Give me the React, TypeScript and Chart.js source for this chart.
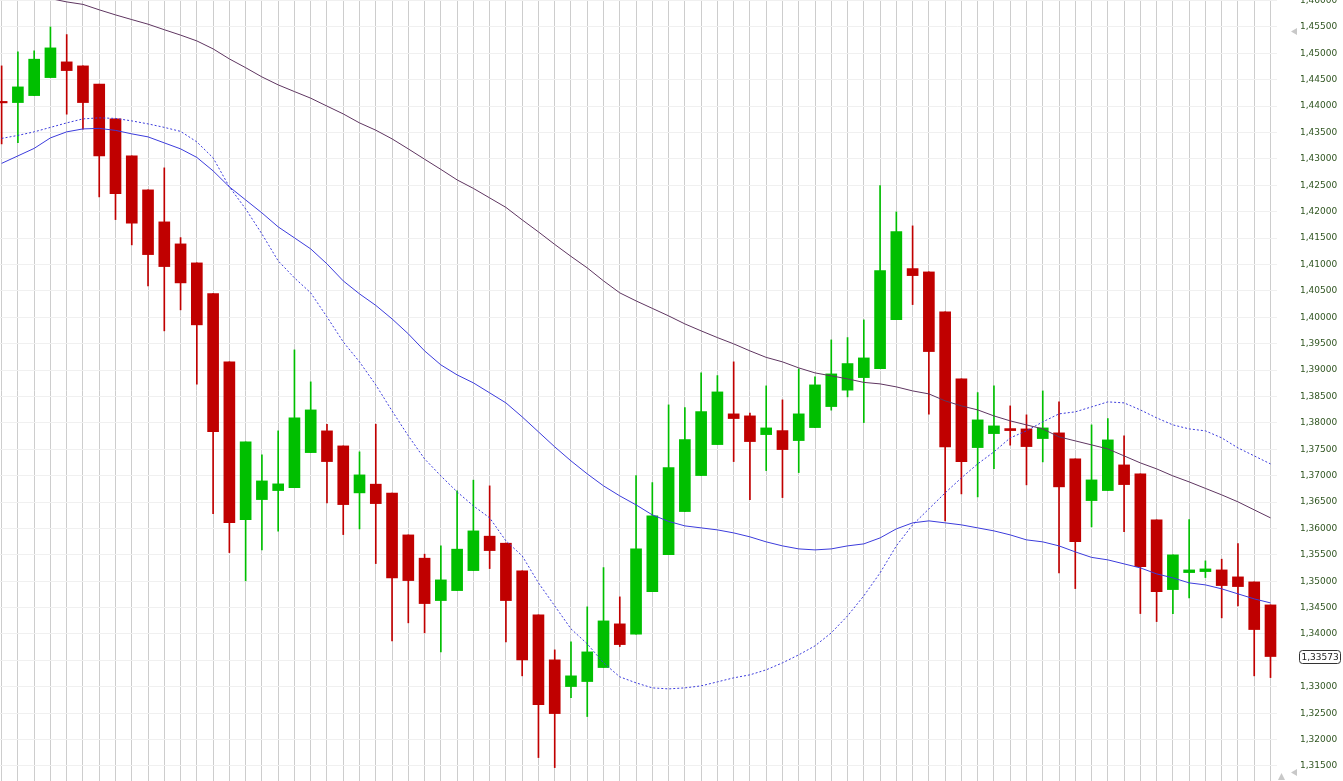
import React, { useEffect, useRef } from "react";
import { Chart, registerables } from "chart.js";

Chart.register(...registerables);

// ---- data ----
const opens = [
  1.44089, 1.44067, 1.44199, 1.4454, 1.44838, 1.44762, 1.44415, 1.43758, 1.43057, 1.42413,
  1.41807, 1.4139, 1.4103, 1.40448, 1.39155, 1.36167, 1.36546, 1.36717, 1.36773, 1.37436,
  1.37848, 1.37563, 1.36673, 1.36838, 1.36667, 1.35877, 1.35436, 1.34633, 1.34822, 1.35201,
  1.35853, 1.3572, 1.35196, 1.34362, 1.3351, 1.33004, 1.33099, 1.33364, 1.34192, 1.33996,
  1.34803, 1.35504, 1.36319, 1.37001, 1.37588, 1.3817, 1.38132, 1.37777, 1.37853, 1.37664,
  1.3791, 1.38308, 1.38619, 1.38857, 1.39028, 1.39956, 1.40922, 1.40859, 1.40102, 1.38833,
  1.37531, 1.37796, 1.37891, 1.37885, 1.37702, 1.3781, 1.37317, 1.36527, 1.36717, 1.37203,
  1.37033, 1.36162, 1.34841, 1.35163, 1.35182, 1.35214, 1.35082, 1.34987, 1.34551,
];
const highs = [
  1.44762, 1.45027, 1.45046, 1.455, 1.45355, 1.44762, 1.44415, 1.43758, 1.43057, 1.42413,
  1.4283, 1.41509, 1.4103, 1.40448, 1.39155, 1.37639, 1.37393, 1.37848, 1.39382, 1.38776,
  1.37974, 1.37563, 1.3745, 1.37974, 1.36667, 1.35877, 1.35512, 1.35669, 1.36711, 1.36914,
  1.36806, 1.3572, 1.35196, 1.34362, 1.33699, 1.33851, 1.34514, 1.35258, 1.34703, 1.37001,
  1.36868, 1.3834, 1.38289, 1.38946, 1.38895, 1.39155, 1.38183, 1.387, 1.38435, 1.39022,
  1.38871, 1.39571, 1.39615, 1.3995, 1.42494, 1.41996, 1.41731, 1.40859, 1.40102, 1.38833,
  1.38573, 1.387, 1.38321, 1.38151, 1.38605, 1.38397, 1.37317, 1.37961, 1.38081, 1.37753,
  1.37033, 1.36162, 1.35499, 1.36167, 1.35385, 1.35417, 1.35713, 1.34987, 1.34551,
];
const lows = [
  1.43284, 1.43309, 1.44199, 1.4454, 1.43847, 1.43563, 1.4228, 1.4185, 1.41371, 1.40594,
  1.39742, 1.4014, 1.38732, 1.36281, 1.35542, 1.35006, 1.35593, 1.35948, 1.36773, 1.37436,
  1.36484, 1.35883, 1.35991, 1.35334, 1.3387, 1.34211, 1.34021, 1.33661, 1.34822, 1.35201,
  1.35239, 1.33851, 1.33207, 1.31659, 1.31469, 1.32795, 1.32436, 1.33364, 1.33762, 1.33996,
  1.34803, 1.35504, 1.36319, 1.37001, 1.37588, 1.37266, 1.36546, 1.37095, 1.36584, 1.37058,
  1.3791, 1.3824, 1.38492, 1.38005, 1.39028, 1.39956, 1.4024, 1.38164, 1.36143, 1.36654,
  1.36597, 1.37133, 1.37577, 1.36825, 1.3726, 1.35158, 1.3486, 1.36029, 1.36717, 1.3594,
  1.34387, 1.34235, 1.34387, 1.34684, 1.35069, 1.34305, 1.34532, 1.33207, 1.33174,
];
const closes = [
  1.44061, 1.44364, 1.44889, 1.45103, 1.44673, 1.44067, 1.43057, 1.42343, 1.41782, 1.41187,
  1.4096, 1.40651, 1.39856, 1.37834, 1.3611, 1.37639, 1.369, 1.36844, 1.38094, 1.38245,
  1.37266, 1.36451, 1.37014, 1.3647, 1.35063, 1.35012, 1.34576, 1.35025, 1.35607, 1.35953,
  1.3558, 1.34633, 1.3351, 1.32663, 1.32492, 1.33207, 1.33661, 1.34248, 1.33799, 1.35612,
  1.36237, 1.37152, 1.37683, 1.38213, 1.38586, 1.38081, 1.37645, 1.37904, 1.37493, 1.3817,
  1.38719, 1.38927, 1.39123, 1.3923, 1.40884, 1.41623, 1.40789, 1.3935, 1.37544, 1.37266,
  1.38056, 1.37942, 1.37853, 1.3755, 1.37904, 1.36787, 1.35751, 1.36919, 1.37677, 1.3683,
  1.35277, 1.34803, 1.35499, 1.35214, 1.35233, 1.34917, 1.34898, 1.34084, 1.33573,
];
// slow moving average (purple)
const maSlow = [
  1.4627, 1.46194, 1.46116, 1.46038, 1.45974, 1.45927, 1.45824, 1.45728, 1.45639, 1.45552,
  1.45447, 1.45345, 1.45235, 1.45084, 1.44894, 1.44728, 1.44553, 1.44402, 1.44275, 1.4415,
  1.44, 1.43852, 1.43682, 1.43544, 1.43379, 1.43189, 1.42994, 1.42801, 1.42602, 1.42441,
  1.42261, 1.42081, 1.41845, 1.41617, 1.4138, 1.41153, 1.40935, 1.40689, 1.40462, 1.4031,
  1.40168, 1.40026, 1.39874, 1.39742, 1.39615, 1.39496, 1.39363, 1.3924, 1.39155, 1.39041,
  1.38946, 1.3889, 1.38833, 1.38766, 1.38738, 1.38681, 1.38605, 1.38548, 1.38416, 1.38321,
  1.38245, 1.38131, 1.38037, 1.37961, 1.37885, 1.37734, 1.37658, 1.37582, 1.37506, 1.37374,
  1.37241, 1.37128, 1.36995, 1.36881, 1.36758, 1.36635, 1.36503, 1.36351, 1.362,
];
// medium moving average (blue solid)
const maMid = [
  1.42915, 1.43057, 1.43199, 1.43398, 1.43512, 1.43568, 1.43578, 1.4354, 1.43474, 1.43417,
  1.43303, 1.4319, 1.43028, 1.42773, 1.4247, 1.42223, 1.41977, 1.41712, 1.41504, 1.41295,
  1.41011, 1.40689, 1.40443, 1.40225, 1.39969, 1.39685, 1.39363, 1.39098, 1.38908, 1.38757,
  1.38568, 1.38378, 1.38113, 1.37829, 1.37545, 1.37279, 1.37033, 1.36806, 1.36616, 1.36446,
  1.36256, 1.36133, 1.36048, 1.3601, 1.35972, 1.35915, 1.3584, 1.35745, 1.35669, 1.35612,
  1.35593, 1.35612, 1.35669, 1.35707, 1.3582, 1.35991, 1.36105, 1.36143, 1.36105, 1.36067,
  1.3601, 1.35953, 1.35877, 1.35783, 1.35745, 1.35669, 1.35555, 1.35451, 1.35404, 1.35328,
  1.35252, 1.35139, 1.35063, 1.34968, 1.3493, 1.34855, 1.3476, 1.34665, 1.34589,
];
// fast moving average (blue dotted)
const maFast = [
  1.43388, 1.43445, 1.43512, 1.43597, 1.43682, 1.43758, 1.43777, 1.43767, 1.4372, 1.43663,
  1.43597, 1.43521, 1.43322, 1.43019, 1.4247, 1.42053, 1.41579, 1.41068, 1.40746, 1.40462,
  1.40007, 1.39533, 1.39155, 1.38719, 1.38226, 1.37753, 1.37317, 1.36995, 1.36692, 1.36427,
  1.362, 1.35764, 1.3548, 1.34968, 1.34532, 1.34097, 1.33813, 1.33453, 1.33188, 1.33074,
  1.32979, 1.3296, 1.32979, 1.33017, 1.33093, 1.33169, 1.33226, 1.33321, 1.33453, 1.33605,
  1.33775, 1.34021, 1.34343, 1.34722, 1.35158, 1.35669, 1.36067, 1.3637, 1.36673, 1.36957,
  1.37222, 1.3745, 1.37715, 1.37848, 1.38018, 1.3817, 1.38208, 1.38302, 1.38397, 1.38378,
  1.38245, 1.38094, 1.37961, 1.37885, 1.37848, 1.37715, 1.37525, 1.37374, 1.37222,
];
const yTickValues = [
  1.315, 1.32, 1.325, 1.33, 1.335, 1.34, 1.345, 1.35, 1.355, 1.36, 1.365, 1.37, 1.375, 1.38,
  1.385, 1.39, 1.395, 1.4, 1.405, 1.41, 1.415, 1.42, 1.425, 1.43, 1.435, 1.44, 1.445, 1.45,
  1.455, 1.46,
];

const GREEN = "#00bf00";
const RED = "#c00000";
const PURPLE = "#5e3560";
const BLUE = "#3c3cdc";
const LABEL_FONT = "DejaVu Sans";

const fmt = (v: number) => v.toFixed(5).replace(".", ",");

const decorPlugin = {
  id: "decor",
  afterDraw(chart: any) {
    const ctx = chart.ctx as CanvasRenderingContext2D;
    const y = chart.scales.y.getPixelForValue(closes[closes.length - 1]);
    ctx.save();
    // current price box
    const bx = 1299.5, bw = 41, bh = 13;
    const by = Math.round(y - bh / 2) + 0.5;
    ctx.beginPath();
    const r = 3;
    ctx.moveTo(bx + r, by);
    ctx.lineTo(bx + bw - r, by);
    ctx.quadraticCurveTo(bx + bw, by, bx + bw, by + r);
    ctx.lineTo(bx + bw, by + bh - r);
    ctx.quadraticCurveTo(bx + bw, by + bh, bx + bw - r, by + bh);
    ctx.lineTo(bx + r, by + bh);
    ctx.quadraticCurveTo(bx, by + bh, bx, by + bh - r);
    ctx.lineTo(bx, by + r);
    ctx.quadraticCurveTo(bx, by, bx + r, by);
    ctx.closePath();
    ctx.fillStyle = "#ffffff";
    ctx.fill();
    ctx.strokeStyle = "#333333";
    ctx.lineWidth = 1;
    ctx.stroke();
    ctx.fillStyle = "#1e1e1e";
    ctx.font = `9px "${LABEL_FONT}"`;
    ctx.textBaseline = "middle";
    ctx.textAlign = "left";
    ctx.fillText(fmt(closes[closes.length - 1]), 1301.5, by + bh / 2 + 0.5);
    // small grey scroll markers
    ctx.fillStyle = "#c8c8c8";
    const tri = (pts: number[][]) => {
      ctx.beginPath();
      ctx.moveTo(pts[0][0], pts[0][1]);
      ctx.lineTo(pts[1][0], pts[1][1]);
      ctx.lineTo(pts[2][0], pts[2][1]);
      ctx.closePath();
      ctx.fill();
    };
    tri([[1291, 31.5], [1297, 28], [1297, 35]]);
    tri([[1291, 772.5], [1297, 769], [1297, 776]]);
    tri([[1281.5, 773], [1278, 780], [1285, 780]]);
    ctx.restore();
  },
};

export default function App() {
  const ref = useRef<HTMLCanvasElement>(null);
  useEffect(() => {
    document.body.style.margin = "0";
    const canvas = ref.current;
    if (!canvas) return;
    const idx = opens.map((_, i) => i);
    const colors = idx.map((i) => (closes[i] >= opens[i] ? GREEN : RED));
    const chart = new Chart(canvas, {
      type: "bar",
      data: {
        datasets: [
          {
            type: "line",
            label: "MA slow",
            data: idx.map((i) => ({ x: i, y: maSlow[i] })),
            borderColor: PURPLE,
            borderWidth: 1,
            pointRadius: 0,
            tension: 0,
            order: 0,
          } as any,
          {
            type: "line",
            label: "MA mid",
            data: idx.map((i) => ({ x: i, y: maMid[i] })),
            borderColor: BLUE,
            borderWidth: 1,
            pointRadius: 0,
            tension: 0,
            order: 0,
          } as any,
          {
            type: "line",
            label: "MA fast",
            data: idx.map((i) => ({ x: i, y: maFast[i] })),
            borderColor: BLUE,
            borderWidth: 1,
            borderDash: [2, 2],
            pointRadius: 0,
            tension: 0,
            order: 0,
          } as any,
          {
            type: "bar",
            label: "body",
            data: idx.map((i) => ({ x: i, y: [opens[i], closes[i]] })),
            backgroundColor: colors,
            borderWidth: 0,
            barThickness: 11,
            grouped: false,
            order: 1,
          } as any,
          {
            type: "bar",
            label: "wick",
            data: idx.map((i) => ({ x: i, y: [lows[i], highs[i]] })),
            backgroundColor: colors,
            borderWidth: 0,
            barThickness: 1,
            grouped: false,
            order: 2,
          } as any,
        ],
      },
      options: {
        animation: false,
        responsive: false,
        maintainAspectRatio: false,
        layout: { padding: 0 },
        plugins: { legend: { display: false }, tooltip: { enabled: false } },
        scales: {
          x: {
            type: "linear",
            offset: false,
            min: -0.1,
            max: 78.4,
            afterBuildTicks: (s: any) => {
              s.ticks = idx.map((v) => ({ value: v }));
            },
            ticks: { display: false },
            grid: { color: "#cdcdcd", drawTicks: false, lineWidth: 1, offset: false },
            border: { display: false },
          },
          y: {
            type: "linear",
            position: "right",
            min: 1.31215,
            max: 1.4601,
            afterBuildTicks: (s: any) => {
              s.ticks = yTickValues.map((v) => ({ value: v }));
            },
            afterFit: (s: any) => {
              s.width = 66;
              s.paddingTop = 0;
              s.paddingBottom = 0;
            },
            ticks: {
              callback: (v: any) => fmt(Number(v)),
              color: "#2f5420",
              font: { family: LABEL_FONT, size: 9 },
              padding: 23,
              autoSkip: false,
            },
            grid: { color: "#f0f0f0", drawTicks: false },
            border: { display: false },
          },
        },
      } as any,
      plugins: [decorPlugin],
    });
    return () => chart.destroy();
  }, []);
  return (
    <div style={{ width: 1343, height: 781, background: "#ffffff" }}>
      <canvas ref={ref} width={1343} height={781} style={{ display: "block" }} />
    </div>
  );
}
